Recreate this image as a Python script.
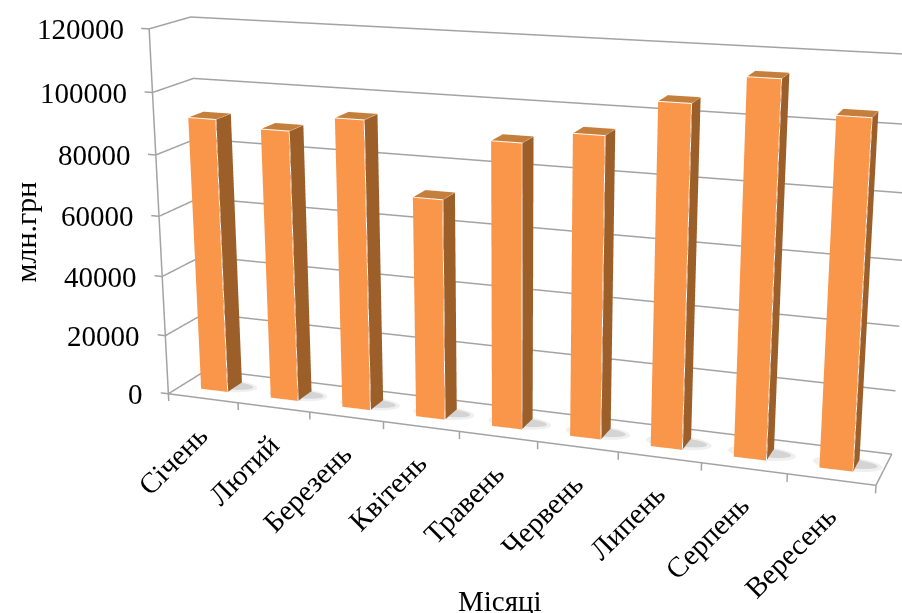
import numpy as np, plotly.graph_objects as go

months = ["Січень", "Лютий", "Березень", "Квітень", "Травень", "Червень", "Липень", "Серпень", "Вересень"]
values = [91000, 89000, 94200, 71200, 90600, 94600, 105700, 114300, 104900]
zticks = [0, 20000, 40000, 60000, 80000, 100000, 120000]

W, H = 902, 613
# The 3D field of view is fixed relative to the scene height, so a tall scene gives a
# flatter perspective; the plot div is then moved up to centre it on the page.
FIG_H = 1634
OFFSET = (FIG_H - H) / 2
EYE = [1.7164, -4.7417, 1.3195]
YAW, PITCH, ROLL = -0.3801, -0.2911, -0.0091
ASPECT_Y, ASPECT_Z = 0.115, 0.5197

GRID = "#A3A3A3"
FRONT, SIDE, TOP = "#F9964A", "#9C5F2A", "#C47F3C"
SERIF = "Liberation Serif"
FLAT = dict(ambient=1, diffuse=0, specular=0, fresnel=0)

look = np.array([np.cos(PITCH) * np.sin(YAW), np.cos(PITCH) * np.cos(YAW), np.sin(PITCH)])
right = np.cross(look, [0, 0, 1])
right /= np.linalg.norm(right)
up = np.cross(right, look)
up = -np.sin(ROLL) * right + np.cos(ROLL) * up
center = np.array(EYE) + 2 * look


def box(x0, x1, y0, y1, z1):
    X = [x0, x1, x1, x0, x0, x1, x1, x0]
    Y = [y0, y0, y1, y1, y0, y0, y1, y1]
    Z = [0, 0, 0, 0, z1, z1, z1, z1]
    return go.Mesh3d(x=X, y=Y, z=Z, i=[0, 0, 1, 1, 4, 4], j=[1, 5, 2, 6, 5, 6], k=[5, 4, 6, 5, 6, 7],
                     facecolor=[FRONT] * 2 + [SIDE] * 2 + [TOP] * 2, flatshading=True, lighting=FLAT, hoverinfo="skip")


def line(x, y, z, col=GRID, w=3):
    return go.Scatter3d(x=x, y=y, z=z, mode="lines", line=dict(color=col, width=w), hoverinfo="skip")


def shadow(cx, cy, rx, ry, z, col):
    t = np.linspace(0, 2 * np.pi, 25)[:-1]
    X = np.r_[cx, cx + rx * np.cos(t)]
    Y = np.r_[cy, cy + ry * np.sin(t)]
    return go.Mesh3d(x=X, y=Y, z=np.full(25, z), i=[0] * 24, j=list(range(1, 25)),
                     k=[i % 24 + 1 for i in range(1, 25)], color=col, flatshading=True, lighting=FLAT, hoverinfo="skip")


fig = go.Figure()
for z in zticks:
    fig.add_trace(line([-.11, 0, 0, 9], [0, 0, 1, 1], [z, z, z, z]))
fig.add_trace(line([0, 0], [0, 0], [0, 120000]))
fig.add_trace(line([0, 9, 9, 0], [0, 0, 1, 1], [0, 0, 0, 0]))
for i in range(10):
    fig.add_trace(line([i, i], [0, 0], [0, -2500]))
for i, v in enumerate(values):
    x0, x1, y0, y1 = i + .30, i + .685, .31, .69
    fig.add_trace(shadow(i + .58, .52, .40, .22, 60, "#F0F0F0"))
    fig.add_trace(shadow(i + .60, .54, .32, .14, 120, "#D4D4D4"))
    fig.add_trace(box(x0, x1, y0, y1, v))
    fig.add_trace(line([x0, x1, x1], [y0, y0, y0], [v, v, 0], "#FFFFFF", 2))
    fig.add_trace(line([x0, x0, x1, x1], [y0, y1, y1, y0], [v, v, v, v], "#FBE3CF", 1))

labels = []
for z in zticks:
    labels.append(dict(x=0, y=0, z=z, text=str(z), showarrow=False, xanchor="right", xshift=-23,
                       font=dict(family=SERIF, size=29, color="#000")))
for i, m in enumerate(months):
    labels.append(dict(x=i + .5, y=0, z=0, text=m, showarrow=False, textangle=-45, xanchor="right", yanchor="top",
                       xshift=14, yshift=-18, font=dict(family=SERIF, size=29, color="#000")))


def py(v):
    return 1 - (v + OFFSET) / FIG_H


titles = [
    dict(x=500 / W, y=py(600), xref="paper", yref="paper", text="Місяці", showarrow=False,
         xanchor="center", yanchor="middle", font=dict(family=SERIF, size=29, color="#000")),
    dict(x=25 / W, y=py(232), xref="paper", yref="paper", text="млн.грн", textangle=-90, showarrow=False,
         xanchor="center", yanchor="middle", font=dict(family=SERIF, size=30, color="#000")),
]
fig.update_layout(
    width=W, height=FIG_H, margin=dict(l=0, r=0, t=0, b=0), showlegend=False, annotations=titles, paper_bgcolor="#fff",
    scene=dict(
        xaxis=dict(range=[-1, 10], visible=False),
        yaxis=dict(range=[-.5, 1.5], visible=False),
        zaxis=dict(range=[-12000, 132000], visible=False),
        aspectmode="manual",
        aspectratio=dict(x=2 * 11 / 9, y=4 * ASPECT_Y, z=2 * ASPECT_Z * 144 / 120),
        annotations=labels,
        camera=dict(eye=dict(x=EYE[0], y=EYE[1], z=EYE[2]),
                    center=dict(x=center[0], y=center[1], z=center[2]),
                    up=dict(x=up[0], y=up[1], z=up[2])),
    ),
)
shift = ("document.documentElement.style.overflow='hidden';document.body.style.overflow='hidden';"
         "var g=document.getElementById('{plot_id}');g.style.position='absolute';g.style.left='0';"
         f"g.style.top='{-OFFSET}px';")
fig.write_html("out.html", post_script=shift)
